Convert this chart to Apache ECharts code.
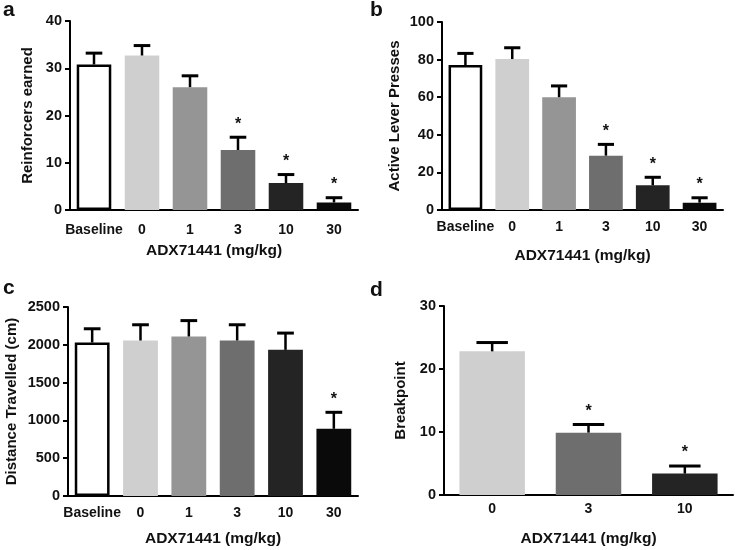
<!DOCTYPE html>
<html>
<head>
<meta charset="utf-8">
<script src="https://cdn.jsdelivr.net/npm/echarts@6/dist/echarts.min.js"></script>
<style>html,body{margin:0;padding:0;background:#fff}#c{width:735px;height:550px}</style>
</head>
<body>
<div id="c"></div>
<script>
const catsDose = ['Baseline', '0', '1', '3', '10', '30'];
const catsD = ['0', '3', '10'];
const reinforcers = [30.8, 32.7, 26.0, 12.7, 5.7, 1.6];
const reinforcersErr = [2.4, 2.1, 2.4, 2.7, 1.8, 1.0];
const reinforcersSig = [0, 0, 0, 1, 1, 1];
const leverPresses = [77.1, 80.3, 60.0, 28.9, 13.1, 3.9];
const leverErr = [6.2, 6.0, 6.0, 6.0, 4.3, 2.6];
const leverSig = [0, 0, 0, 1, 1, 1];
const distance = [2030, 2057, 2110, 2057, 1933, 889];
const distanceErr = [182, 208, 210, 208, 222, 218];
const distanceSig = [0, 0, 0, 0, 0, 1];
const breakpoint = [22.8, 9.9, 3.4];
const breakpointErr = [1.4, 1.3, 1.2];
const breakpointSig = [0, 1, 1];
const colorsDose = ['#ffffff', '#cfcfcf', '#959595', '#6e6e6e', '#242424', '#0a0a0a'];
const colorsD = ['#cfcfcf', '#6e6e6e', '#242424'];

const FONT = 'Liberation Sans';
const chart = echarts.init(document.getElementById('c'), null, {renderer: 'canvas'});

function xAx(i, cats, margin, gap) {
  return {
    gridIndex: i, type: 'category', data: cats,
    axisLine: {lineStyle: {color: '#000', width: 2}},
    axisTick: {alignWithLabel: true, length: 5, lineStyle: {color: '#000', width: 2}},
    axisLabel: {interval: 0, color: '#111', fontFamily: FONT, fontWeight: 'bold', fontSize: 14, margin: margin},
    name: 'ADX71441 (mg/kg)', nameLocation: 'middle', nameGap: gap,
    nameTextStyle: {color: '#111', fontFamily: FONT, fontWeight: 'bold', fontSize: 15.5}
  };
}
function yAx(i, max, interval, name, gap) {
  return {
    gridIndex: i, type: 'value', min: 0, max: max, interval: interval,
    axisLine: {show: true, lineStyle: {color: '#000', width: 2}},
    axisTick: {show: true, length: 5, lineStyle: {color: '#000', width: 2}},
    splitLine: {show: false},
    axisLabel: {color: '#111', fontFamily: FONT, fontWeight: 'bold', fontSize: 14.5, margin: 8,
      formatter: function (v) { return String(v); }},
    name: name, nameLocation: 'middle', nameGap: gap,
    nameTextStyle: {color: '#111', fontFamily: FONT, fontWeight: 'bold', fontSize: 15}
  };
}
function barSeries(i, vals, colors, width) {
  return {
    type: 'bar', xAxisIndex: i, yAxisIndex: i, barWidth: width,
    data: vals.map((v, k) => ({
      value: v,
      itemStyle: {color: colors[k], borderColor: colors[k] === '#ffffff' ? '#000' : colors[k], borderWidth: colors[k] === '#ffffff' ? 2.5 : 0}
    })),
    z: 2
  };
}
function errSeries(i, vals, errs, sigs, frac) {
  return {
    type: 'custom', xAxisIndex: i, yAxisIndex: i, z: 5,
    data: vals.map((v, k) => [k, v, errs[k], sigs[k]]),
    renderItem: function (params, api) {
      const idx = api.value(0), v = api.value(1), e = api.value(2), s = api.value(3);
      const base = api.coord([idx, v]);
      const top = api.coord([idx, v + e]);
      const bw = api.size([1, 0])[0] * frac;
      const half = bw * 0.24;
      const children = [
        {type: 'line', shape: {x1: base[0], y1: base[1], x2: top[0], y2: top[1]}, style: {stroke: '#000', lineWidth: 2.5}},
        {type: 'line', shape: {x1: top[0] - half, y1: top[1], x2: top[0] + half, y2: top[1]}, style: {stroke: '#000', lineWidth: 3}}
      ];
      if (s) {
        children.push({type: 'text', x: top[0], y: top[1] - 5,
          style: {text: '*', fill: '#111', font: 'bold 16px ' + FONT, textAlign: 'center', textVerticalAlign: 'bottom'}});
      }
      return {type: 'group', children: children};
    }
  };
}

const option = {
  animation: false,
  backgroundColor: '#fff',
  grid: [
    {left: 70, right: 377, top: 21, bottom: 340},
    {left: 442, right: 12, top: 22, bottom: 340},
    {left: 68, right: 377, top: 307, bottom: 54},
    {left: 444, right: 2, top: 306, bottom: 55}
  ],
  xAxis: [
    xAx(0, catsDose, 13, 33),
    xAx(1, catsDose, 10, 38),
    xAx(2, catsDose, 10, 35),
    xAx(3, catsD, 7, 36)
  ],
  yAxis: [
    yAx(0, 40, 10, 'Reinforcers earned', 35),
    yAx(1, 100, 20, 'Active Lever Presses', 40),
    yAx(2, 2500, 500, 'Distance Travelled (cm)', 49),
    yAx(3, 30, 10, 'Breakpoint', 36)
  ],
  graphic: [
    {type: 'text', left: 3, top: 0, style: {text: 'a', font: 'bold 21px ' + FONT, fill: '#111'}},
    {type: 'text', left: 370, top: 0, style: {text: 'b', font: 'bold 21px ' + FONT, fill: '#111'}},
    {type: 'text', left: 3, top: 278, style: {text: 'c', font: 'bold 21px ' + FONT, fill: '#111'}},
    {type: 'text', left: 370, top: 280, style: {text: 'd', font: 'bold 21px ' + FONT, fill: '#111'}}
  ],
  series: [
    barSeries(0, reinforcers, colorsDose, '72%'),
    errSeries(0, reinforcers, reinforcersErr, reinforcersSig, 0.72),
    barSeries(1, leverPresses, colorsDose, '72%'),
    errSeries(1, leverPresses, leverErr, leverSig, 0.72),
    barSeries(2, distance, colorsDose, '72%'),
    errSeries(2, distance, distanceErr, distanceSig, 0.72),
    barSeries(3, breakpoint, colorsD, '68%'),
    errSeries(3, breakpoint, breakpointErr, breakpointSig, 0.68)
  ]
};
chart.setOption(option);
</script>
</body>
</html>
